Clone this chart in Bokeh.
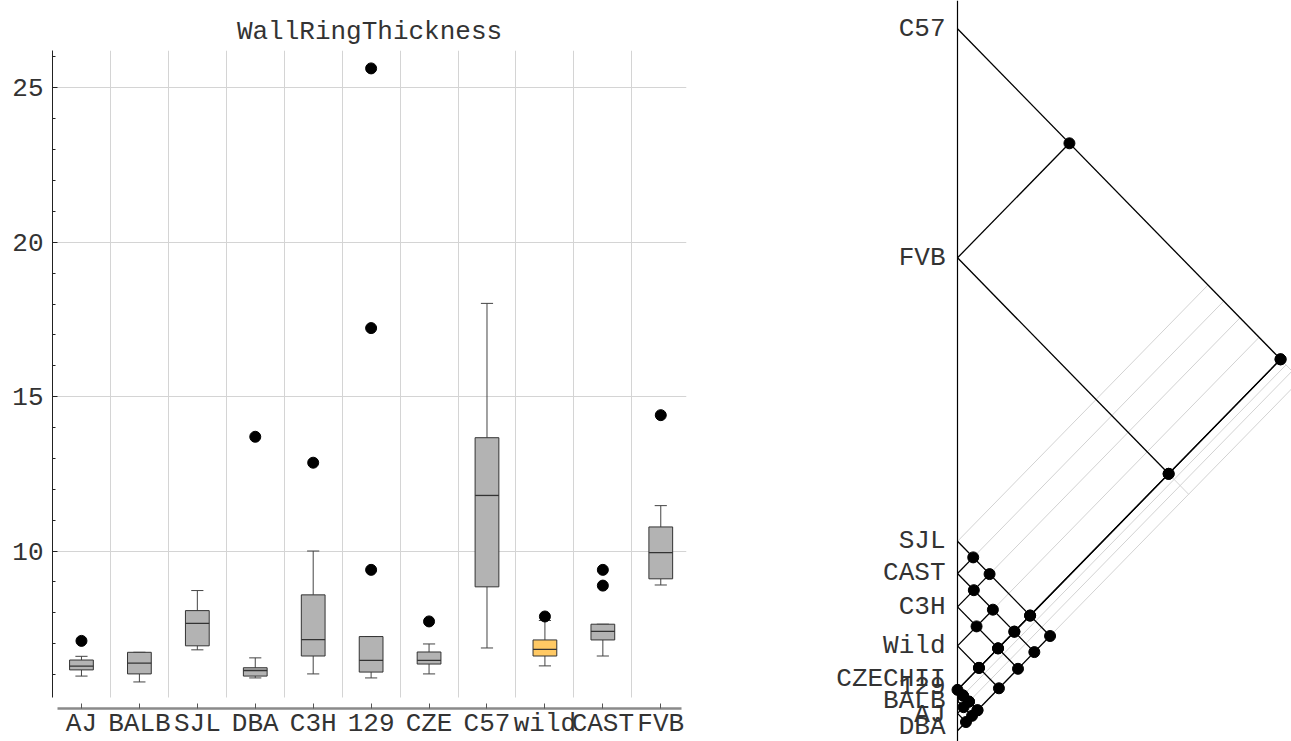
import numpy as np
from bokeh.plotting import figure
from bokeh.layouts import row
from bokeh.models import FixedTicker, SingleIntervalTicker, Span
from bokeh.embed import file_html
from bokeh.resources import INLINE
from bokeh.core.properties import value

FONT = "Liberation Mono"
TXT = "#333333"
FS = "26px"

# ---------------- data ----------------
categories = ["AJ", "BALB", "SJL", "DBA", "C3H", "129", "CZE", "C57", "wild", "CAST", "FVB"]
group_names = ["AJ", "BALB", "SJL", "DBA", "C3H", "129", "CZECHII", "C57", "Wild", "CAST", "FVB"]
whisker_low = [5.95, 5.76, 6.80, 5.89, 6.02, 5.89, 6.02, 6.86, 6.28, 6.60, 8.90]
q1 = [6.15, 6.02, 6.93, 5.95, 6.60, 6.08, 6.34, 8.84, 6.60, 7.12, 9.10]
median = [6.27, 6.37, 7.66, 6.13, 7.13, 6.46, 6.46, 11.80, 6.815, 7.40, 9.95]
q3 = [6.47, 6.72, 8.07, 6.22, 8.58, 7.23, 6.73, 13.67, 7.12, 7.63, 10.78]
whisker_high = [6.59, 6.72, 8.72, 6.54, 10.00, 7.23, 6.99, 18.02, 7.75, 7.63, 11.47]
outlier_cat = ["AJ", "DBA", "C3H", "129", "129", "129", "CZE", "wild", "CAST", "CAST", "FVB"]
outlier_val = [7.09, 13.70, 12.86, 25.63, 17.22, 9.39, 7.72, 7.88, 9.39, 8.88, 14.40]
highlight = "wild"

# pairs marked with a dot in the comparison diagram
top_block = ["SJL", "CAST", "C3H", "Wild"]
low_block = ["CZECHII", "129", "BALB", "AJ", "DBA"]
dot_pairs = [("C57", "FVB"), ("C57", "CZECHII"), ("C57", "129"),
             ("FVB", "CZECHII"), ("FVB", "129"),
             ("SJL", "CAST"), ("SJL", "C3H"), ("CAST", "C3H"), ("CAST", "Wild"), ("C3H", "Wild")]
dot_pairs += [(t, b) for t in top_block for b in ["CZECHII", "129", "DBA"]]
dot_pairs += [(low_block[i], low_block[j]) for i in range(len(low_block)) for j in range(i + 1, len(low_block))]

# ---------------- left: box plot ----------------
n = len(categories)
xc = np.arange(1, n + 1, dtype=float)
pos = dict(zip(categories, xc))
BW = 0.41
CAP = 0.105

p = figure(width=820, height=741, x_range=(0.5, 11.444), y_range=(4.90, 26.21),
           output_backend="svg", toolbar_location=None, frame_align=False,
           min_border_left=52, min_border_right=134, min_border_top=50, min_border_bottom=30)
p.outline_line_color = None
p.background_fill_color = "white"
p.border_fill_color = "white"

p.title.text = "WallRingThickness"
p.title.align = "center"
p.title.text_font = FONT
p.title.text_font_size = FS
p.title.text_font_style = "normal"
p.title.text_color = TXT
p.title.standoff = 7

# axes
xa = p.xaxis[0]
xa.ticker = FixedTicker(ticks=list(xc))
xa.major_label_overrides = {int(x): c for x, c in zip(xc, categories)}
xa.axis_line_color = "#8a8a8a"
xa.axis_line_width = 2.5
xa.major_tick_in = 5
xa.major_tick_out = 0
xa.major_tick_line_color = "#555555"
xa.minor_tick_line_color = None
xa.major_label_text_font = FONT
xa.major_label_text_font_size = FS
xa.major_label_text_color = TXT
xa.major_label_standoff = 0
xa.bounds = (0.59, 11.35)

ya = p.yaxis[0]
ya.ticker = SingleIntervalTicker(interval=5, num_minor_ticks=5)
ya.axis_line_color = "#222222"
ya.axis_line_width = 1
ya.major_tick_in = 5
ya.major_tick_out = 0
ya.minor_tick_in = 3
ya.minor_tick_out = 0
ya.major_tick_line_color = "#222222"
ya.minor_tick_line_color = "#222222"
ya.major_label_text_font = FONT
ya.major_label_text_font_size = FS
ya.major_label_text_color = TXT
ya.major_label_standoff = 9
ya.bounds = (5.255, 26.21)

p.xgrid.ticker = FixedTicker(ticks=list(xc[:-1] + 0.5))
p.xgrid.grid_line_color = "#d4d4d4"
p.xgrid.cross_bounds = (5.255, 26.21)
p.ygrid.grid_line_color = "#d4d4d4"

# whiskers
p.segment(x0=xc, y0=q3, x1=xc, y1=whisker_high, line_color="#444444", line_width=1)
p.segment(x0=xc, y0=q1, x1=xc, y1=whisker_low, line_color="#444444", line_width=1)
p.segment(x0=xc - CAP, y0=whisker_high, x1=xc + CAP, y1=whisker_high, line_color="#444444", line_width=1)
p.segment(x0=xc - CAP, y0=whisker_low, x1=xc + CAP, y1=whisker_low, line_color="#444444", line_width=1)
# boxes
fills = ["#FFC964" if c == highlight else "#b3b3b3" for c in categories]
p.vbar(x=xc, width=BW, bottom=q1, top=q3, fill_color=fills, line_color="#333333", line_width=1)
p.segment(x0=xc - BW / 2, y0=median, x1=xc + BW / 2, y1=median, line_color="#333333", line_width=1.3)
# outliers
p.scatter(x=[pos[c] for c in outlier_cat], y=outlier_val, size=11, color="black")

# ---------------- right: pairwise comparison diagram ----------------
gval = dict(zip(group_names, median))
vmax = max(median)
vmin = min(median)

r = figure(width=471, height=741, x_range=(-137 / 121.0, 334 / 121.0), y_range=(6.0427, 12.0286),
           output_backend="svg", toolbar_location=None, min_border=0, frame_align=False)
r.axis.visible = False
r.grid.visible = False
r.outline_line_color = None
r.background_fill_color = "white"
r.border_fill_color = "white"

# full lattice in light gray
gx0, gy0, gx1, gy1 = [], [], [], []
for g in group_names:
    v = gval[g]
    gx0 += [0, 0]
    gy0 += [v, v]
    gx1 += [(v - vmin) / 2, (vmax - v) / 2]
    gy1 += [(v + vmin) / 2, (vmax + v) / 2]
r.segment(x0=gx0, y0=gy0, x1=gx1, y1=gy1, line_color="#d2d2d2", line_width=1)

# dots and black segments (axis -> farthest dot on each line)
dx, dy = [], []
reach_down = {g: 0.0 for g in group_names}
reach_up = {g: 0.0 for g in group_names}
for a, b in dot_pairs:
    va, vb = gval[a], gval[b]
    if va < vb:
        a, b, va, vb = b, a, vb, va
    x = (va - vb) / 2
    dx.append(x)
    dy.append((va + vb) / 2)
    reach_down[a] = max(reach_down[a], x)
    reach_up[b] = max(reach_up[b], x)

bx0, by0, bx1, by1 = [], [], [], []
for g in group_names:
    v = gval[g]
    if reach_down[g] > 0:
        bx0.append(0); by0.append(v); bx1.append(reach_down[g]); by1.append(v - reach_down[g])
    if reach_up[g] > 0:
        bx0.append(0); by0.append(v); bx1.append(reach_up[g]); by1.append(v + reach_up[g])
r.segment(x0=bx0, y0=by0, x1=bx1, y1=by1, line_color="black", line_width=1.3)

r.add_layout(Span(location=0, dimension="height", line_color="black", line_width=1.2))

r.scatter(x=dx, y=dy, size=11, color="black")

label_shift = {"CZECHII": -11, "129": -4, "AJ": 2, "DBA": -4}
r.text(x=[0] * len(group_names), y=[gval[g] for g in group_names], text=group_names,
       x_offset=-12, y_offset=[label_shift.get(g, 0) for g in group_names],
       text_align="right", text_baseline="middle",
       text_font=value(FONT), text_font_size=FS, text_color=TXT)

layout = row(p, r)
open("out.html", "w").write(file_html(layout, INLINE))
